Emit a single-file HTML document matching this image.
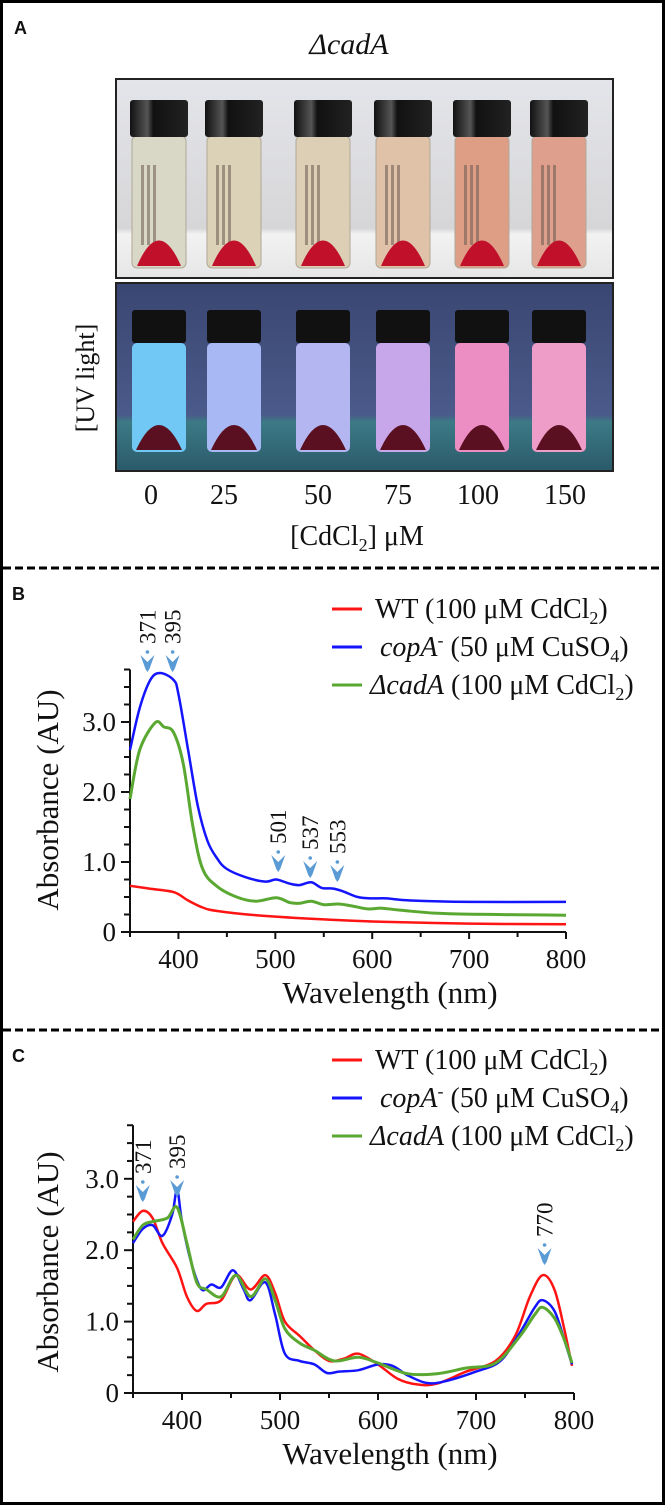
<!DOCTYPE html>
<html><head><meta charset="utf-8"><style>
html,body{margin:0;padding:0;background:#fff}
svg{display:block}
text{font-family:"Liberation Serif",serif;fill:#111}
.sans{font-family:"Liberation Sans",sans-serif;font-weight:bold}
</style></head><body>
<svg id="fig" width="666" height="1506" viewBox="0 0 666 1506" xmlns="http://www.w3.org/2000/svg">
<defs>
<linearGradient id="bgTop" x1="0" y1="0" x2="0" y2="1"><stop offset="0" stop-color="#e4e5ea"/><stop offset="0.75" stop-color="#d6d6d8"/><stop offset="0.78" stop-color="#f2f2f2"/><stop offset="1" stop-color="#e6e6e6"/></linearGradient>
<linearGradient id="bgUV" x1="0" y1="0" x2="0" y2="1"><stop offset="0" stop-color="#3a4672"/><stop offset="0.7" stop-color="#4a5a8a"/><stop offset="0.74" stop-color="#3c7a86"/><stop offset="1" stop-color="#2b5a6a"/></linearGradient>
<linearGradient id="cap" x1="0" y1="0" x2="1" y2="0"><stop offset="0" stop-color="#111"/><stop offset="0.3" stop-color="#555"/><stop offset="0.4" stop-color="#111"/><stop offset="1" stop-color="#222"/></linearGradient>
</defs>
<rect x="1.5" y="1.5" width="662" height="1502" fill="none" stroke="#000" stroke-width="3"/>
<text class="sans" x="14" y="34" font-size="18">A</text>
<text x="349" y="54" font-size="30" font-style="italic" text-anchor="middle">ΔcadA</text>
<g id="photoTop"></g>
<g id="photoUV"></g>
<text transform="translate(94,378) rotate(-90)" font-size="26" text-anchor="middle">[UV light]</text>
<g id="concLabels"></g>
<text x="357" y="545" font-size="28" text-anchor="middle">[CdCl<tspan font-size="18" dy="6">2</tspan><tspan dy="-6">] μM</tspan></text>
<line x1="3" y1="568" x2="663" y2="568" stroke="#000" stroke-width="3" stroke-dasharray="8,4"/>
<line x1="3" y1="1030" x2="663" y2="1030" stroke="#000" stroke-width="3" stroke-dasharray="8,4"/>
<text class="sans" x="12" y="600" font-size="18">B</text>
<text class="sans" x="12" y="1062" font-size="18">C</text>
<g id="chartB"></g>
<g id="chartC"></g>
</svg>
<script>
// ---- Panel A data
const concLabels = ["0","25","50","75","100","150"];
// ---- Panel B data
const nmB_wt  = [350,370,395,410,425,440,480,550,600,700,800];
const absB_wt = [0.66,0.62,0.57,0.45,0.35,0.30,0.24,0.18,0.15,0.12,0.11];
const nmB_cop  = [350,360,371,381,395,400,410,420,430,440,450,470,490,501,515,525,537,548,560,570,585,600,615,640,700,800];
const absB_cop = [2.6,3.2,3.6,3.70,3.6,3.4,2.6,1.8,1.3,1.05,0.9,0.78,0.72,0.75,0.69,0.67,0.71,0.63,0.62,0.58,0.5,0.48,0.48,0.45,0.43,0.43];
const nmB_cad  = [350,360,376,385,395,405,415,425,440,460,480,501,515,525,537,550,565,580,595,610,630,680,800];
const absB_cad = [1.9,2.6,2.99,2.93,2.85,2.4,1.5,0.9,0.65,0.5,0.44,0.49,0.42,0.41,0.44,0.39,0.40,0.37,0.33,0.34,0.31,0.26,0.24];
const peaksB = [368,394,503,536,564];
const peakLabelsB = ["371","395","501","537","553"];
const xTicksB = [400,500,600,700,800];
const yTicksB = [0,1,2,3];
const yTickLabelsB = ["0","1.0","2.0","3.0"];
// ---- Panel C data
const nmC_wt  = [350,360,370,380,395,405,415,425,440,455,470,485,495,505,520,535,550,565,580,600,620,640,660,690,720,740,755,768,780,790,798];
const absC_wt = [2.4,2.55,2.45,2.1,1.75,1.35,1.15,1.25,1.3,1.65,1.45,1.65,1.4,1.0,0.8,0.6,0.45,0.48,0.55,0.4,0.2,0.12,0.13,0.3,0.45,0.8,1.35,1.65,1.45,0.9,0.38];
const nmC_cop  = [350,360,370,380,390,395,400,410,420,430,440,452,463,470,485,495,505,520,535,548,560,580,600,615,630,650,670,700,725,745,760,768,780,790,798];
const absC_cop = [2.1,2.3,2.35,2.2,2.5,2.85,2.4,1.8,1.45,1.52,1.48,1.72,1.45,1.3,1.55,1.1,0.55,0.45,0.4,0.28,0.3,0.32,0.4,0.38,0.25,0.14,0.17,0.3,0.45,0.85,1.2,1.3,1.15,0.75,0.4];
const nmC_cad  = [350,360,370,385,395,405,415,425,440,455,470,485,495,505,520,535,555,580,600,630,660,690,720,745,760,768,780,790,798];
const absC_cad = [2.15,2.35,2.4,2.45,2.6,2.1,1.55,1.45,1.35,1.65,1.35,1.6,1.3,0.9,0.7,0.6,0.45,0.5,0.42,0.27,0.27,0.35,0.42,0.8,1.1,1.2,1.05,0.75,0.42];
const peaksC = [360,395,770];
const peakLabelsC = ["371","395","770"];
const xTicksC = [400,500,600,700,800];
const yTicksC = [0,1,2,3];
const yTickLabelsC = ["0","1.0","2.0","3.0"];

const NS="http://www.w3.org/2000/svg";
function mk(tag,attrs,parent){const e=document.createElementNS(NS,tag);for(const k in attrs)e.setAttribute(k,attrs[k]);parent.appendChild(e);return e;}

const vialX=[159,234,323,403,482,559];
const topBody=["#d9d8c6","#dcd2b8","#dccfb6","#e0c2a8","#de9e86","#dea08c"];
const uvBody=["#72c8f4","#a8b8f4","#b4b6f2","#c8a6ea","#ec8ec4","#ee9cc8"];
(function(){
 const g=document.getElementById('photoTop');
 mk('rect',{x:116,y:79,width:497,height:199,fill:'url(#bgTop)',stroke:'#222','stroke-width':2},g);
 vialX.forEach((cx,i)=>{
  const v=mk('g',{},g);
  
  
  mk('rect',{x:cx-27,y:136,width:54,height:132,rx:5,fill:topBody[i],stroke:'#b0a898','stroke-width':1},v);
  for(let k=0;k<3;k++)mk('rect',{x:cx-18+k*6,y:165,width:3,height:80,fill:'#6a5a50',opacity:0.55},v);
  mk('path',{d:`M${cx-22},266 Q${cx},215 ${cx+22},266 Z`,fill:'#c0102a'},v);
  mk('rect',{x:cx-29,y:100,width:58,height:37,rx:3,fill:'url(#cap)'},v);
 });
 const u=document.getElementById('photoUV');
 mk('rect',{x:116,y:283,width:497,height:188,fill:'url(#bgUV)',stroke:'#222','stroke-width':2},u);
 vialX.forEach((cx,i)=>{
  const v=mk('g',{},u);
  
  
  mk('rect',{x:cx-27,y:343,width:54,height:109,rx:5,fill:uvBody[i]},v);
  mk('path',{d:`M${cx-23},450 Q${cx},400 ${cx+23},450 Z`,fill:'#5a1020'},v);
  mk('rect',{x:cx-27,y:310,width:54,height:33,rx:3,fill:'#111'},v);
 });
 const cl=document.getElementById('concLabels');
 const lx=[151,224,318,398,478,565];
 concLabels.forEach((t,i)=>{
  const e=mk('text',{x:lx[i],y:504,'font-size':28,'text-anchor':'middle'},cl);
  
  
  e.textContent=t;
 });
})();

function smooth(pts){
 let d=`M${pts[0][0].toFixed(1)},${pts[0][1].toFixed(1)}`;
 for(let i=0;i<pts.length-1;i++){
  const p0=pts[Math.max(0,i-1)],p1=pts[i],p2=pts[i+1],p3=pts[Math.min(pts.length-1,i+2)];
  const c1=[p1[0]+(p2[0]-p0[0])/6,p1[1]+(p2[1]-p0[1])/6];
  const c2=[p2[0]-(p3[0]-p1[0])/6,p2[1]-(p3[1]-p1[1])/6];
  d+=` C${c1[0].toFixed(1)},${c1[1].toFixed(1)} ${c2[0].toFixed(1)},${c2[1].toFixed(1)} ${p2[0].toFixed(1)},${p2[1].toFixed(1)}`;
 }
 return d;
}
function arrow(g,x,tipY,name){
 const a=mk('g',{},g);
 
 
 mk('circle',{cx:x,cy:tipY-20,r:1.8,fill:'#5b9bd5'},a);
 mk('path',{d:`M${x-7},${tipY-17} L${x},${tipY-10} L${x+7},${tipY-17} L${x+2},${tipY-3} L${x},${tipY} L${x-2},${tipY-3} Z`,fill:'#5b9bd5'},a);
}
function chart(cfg){
 const g=document.getElementById(cfg.id);
 const X=nm=>cfg.x0+(nm-350)*(cfg.x1-cfg.x0)/450;
 const Y=v=>cfg.y0-v*cfg.unit;
 const yTop=Y(3.75);
 const ax=mk('g',{stroke:'#111','stroke-width':2,fill:'none'},g);
 
 
 mk('path',{d:`M${cfg.x0},${yTop} V${cfg.y0} H${cfg.x1}`},ax);
 for(let v=0;v<=3.75001;v+=0.25){
  const len=(Math.abs(v-Math.round(v))<1e-6)?9:6;
  mk('line',{x1:cfg.x0-len,y1:Y(v),x2:cfg.x0,y2:Y(v)},ax);
 }
 for(let nm=350;nm<=800;nm+=50){
  const len=(nm%100===0)?7:5;
  mk('line',{x1:X(nm),y1:cfg.y0,x2:X(nm),y2:cfg.y0+len},ax);
 }
 cfg.yTicks.forEach((v,i)=>{
  const t=mk('text',{x:cfg.x0-14,y:Y(v)+9,'font-size':27,'text-anchor':'end'},g);
  
  
  t.textContent=cfg.yLabels[i];
 });
 cfg.xTicks.forEach(nm=>{
  const t=mk('text',{x:X(nm),y:cfg.y0+36,'font-size':27,'text-anchor':'middle'},g);
  
  
  t.textContent=nm;
 });
 const xt=mk('text',{x:390,y:cfg.y0+71,'font-size':31,'text-anchor':'middle'},g);
 
 
 xt.textContent='Wavelength (nm)';
 const yt=mk('text',{transform:`translate(58,${cfg.yTitleC}) rotate(-90)`,'font-size':31,'text-anchor':'middle'},g);
 
 
 yt.textContent='Absorbance (AU)';
 const cols=['#ff1414','#1414ff','#5aa832'];
 cfg.series.forEach((s,i)=>{
  const pts=s[0].map((nm,k)=>[X(nm),Y(s[1][k])]);
  const p=mk('path',{d:smooth(pts),fill:'none',stroke:cols[i],'stroke-width':i==2?3:2.5,'stroke-linejoin':'round'},g);
  
  
 });
 cfg.peaks.forEach((nm,i)=>{
  const x=X(nm), tip=cfg.tipY[i];
  arrow(g,x,tip,'peak-arrow-'+cfg.peakLabels[i]);
  const t=mk('text',{transform:`translate(${x+8},${tip-28}) rotate(-90)`,'font-size':23},g);
  
  
  t.textContent=cfg.peakLabels[i];
 });
 const lg=mk('g',{},g);
 
 
 const L=cfg.legY;
 const rows=[
  ['WT','(100 μM CdCl','2',')'],
  ['copA','(50 μM CuSO','4',')'],
  ['ΔcadA','(100 μM CdCl','2',')']
 ];
 rows.forEach((r,i)=>{
  const y=L+i*38;
  const en=mk('g',{},lg);
  
  
  mk('line',{x1:332,y1:y,x2:362,y2:y,stroke:cols[i],'stroke-width':3},en);
  const t=mk('text',{x:i==1?380:(i==2?370:375),y:y+9,'font-size':28},en);
  const a=mk('tspan',{'font-style':i==0?'normal':'italic'},t);a.textContent=r[0];
  if(i==1){const s=mk('tspan',{'font-size':18,dy:-10},t);s.textContent='-';const b=mk('tspan',{dy:10},t);b.textContent=' ';}
  const b=mk('tspan',{},t);b.textContent=' '+r[1];
  const c=mk('tspan',{'font-size':18,dy:6},t);c.textContent=r[2];
  const d=mk('tspan',{dy:-6},t);d.textContent=r[3];
 });
}
chart({id:'chartB',x0:130,x1:566,y0:932,unit:70,xTicks:xTicksB,yTicks:yTicksB,yLabels:yTickLabelsB,yTitleC:800,
 series:[[nmB_wt,absB_wt],[nmB_cop,absB_cop],[nmB_cad,absB_cad]],
 peaks:peaksB,peakLabels:peakLabelsB,tipY:[672,672,872,878,882],legY:609});
chart({id:'chartC',x0:133,x1:574,y0:1393,unit:71.4,xTicks:xTicksC,yTicks:yTicksC,yLabels:yTickLabelsC,yTitleC:1262,
 series:[[nmC_wt,absC_wt],[nmC_cop,absC_cop],[nmC_cad,absC_cad]],
 peaks:peaksC,peakLabels:peakLabelsC,tipY:[1202,1197,1265],legY:1060});
</script>
</body></html>
